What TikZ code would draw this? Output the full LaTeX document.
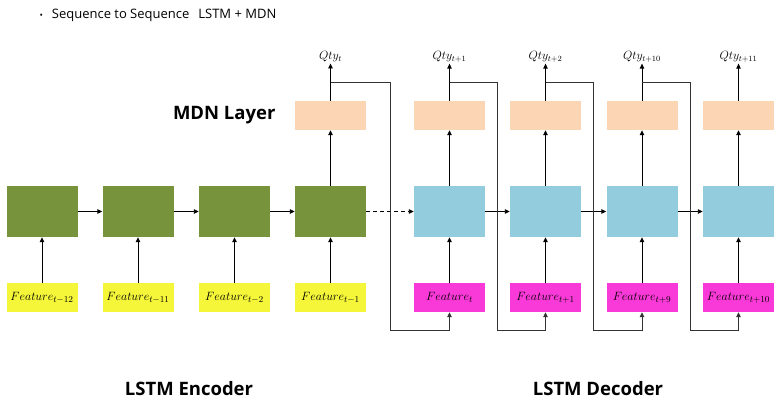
\documentclass[tikz,border=0pt]{standalone}
\usepackage{fontspec}
\setmainfont{Open Sans}
\usetikzlibrary{arrows.meta,calc}

\begin{document}
\begin{tikzpicture}[x=1pt,y=-1pt,
    box/.style={minimum width=71pt,minimum height=29pt,inner sep=0pt},
    cell/.style={box,minimum height=51pt},
    feat/.style={box,font=\fontsize{13}{15}\selectfont},
    qty/.style={inner sep=1pt,font=\fontsize{12}{14}\selectfont},
    head/.style={font=\bfseries\fontsize{18.5}{22}\selectfont},
    arr/.style={-{Triangle[length=5pt,width=4.5pt]},line width=0.9pt},
    fb/.style={arr,black!80}]
    % Define colors
    \definecolor{encgreen}{RGB}{119,147,60}
    \definecolor{decblue}{RGB}{147,205,221}
    \definecolor{mdnpeach}{RGB}{252,213,181}
    \definecolor{featyellow}{RGB}{245,246,58}
    \definecolor{featpink}{RGB}{250,58,216}

    \useasboundingbox (0,0) rectangle (779,416);

    % Title
    \node[anchor=west,font=\fontsize{13}{15}\selectfont] (title) at (36,15)
        {{\small\textbullet}\hspace{9pt}Sequence to Sequence\hspace{9pt}LSTM + MDN};

    % Encoder cells and inputs
    \node[cell,fill=encgreen] (e1) at (42,211.5) {};
    \node[cell,fill=encgreen] (e2) at (138,211.5) {};
    \node[cell,fill=encgreen] (e3) at (234.5,211.5) {};
    \node[cell,fill=encgreen] (e4) at (330.5,211.5) {};
    \node[feat,fill=featyellow] (f1) at (42,297.5) {$Feature_{t-12}$};
    \node[feat,fill=featyellow] (f2) at (138,297.5) {$Feature_{t-11}$};
    \node[feat,fill=featyellow] (f3) at (234.5,297.5) {$Feature_{t-2}$};
    \node[feat,fill=featyellow] (f4) at (330.5,297.5) {$Feature_{t-1}$};

    % Decoder cells and inputs
    \node[cell,fill=decblue] (d1) at (449.5,211.5) {};
    \node[cell,fill=decblue] (d2) at (545.5,211.5) {};
    \node[cell,fill=decblue] (d3) at (642,211.5) {};
    \node[cell,fill=decblue] (d4) at (738.5,211.5) {};
    \node[feat,fill=featpink] (g1) at (449.5,297.5) {$Feature_{t}$};
    \node[feat,fill=featpink] (g2) at (545.5,297.5) {$Feature_{t+1}$};
    \node[feat,fill=featpink] (g3) at (642,297.5) {$Feature_{t+9}$};
    \node[feat,fill=featpink] (g4) at (738.5,297.5) {$Feature_{t+10}$};

    % MDN layer and outputs
    \node[box,fill=mdnpeach] (m0) at (330.5,115.5) {};
    \node[box,fill=mdnpeach] (m1) at (449.5,115.5) {};
    \node[box,fill=mdnpeach] (m2) at (545.5,115.5) {};
    \node[box,fill=mdnpeach] (m3) at (642,115.5) {};
    \node[box,fill=mdnpeach] (m4) at (738.5,115.5) {};
    \node[qty] (q0) at (330.5,57) {$Qty_{t}$};
    \node[qty] (q1) at (449.5,57) {$Qty_{t+1}$};
    \node[qty] (q2) at (545.5,57) {$Qty_{t+2}$};
    \node[qty] (q3) at (642,57) {$Qty_{t+10}$};
    \node[qty] (q4) at (738.5,57) {$Qty_{t+11}$};

    % Labels
    \node[head,anchor=east] (mdnlab) at (279,115) {MDN Layer};
    \node[head] (enclab) at (189,389) {LSTM Encoder};
    \node[head] (declab) at (598,389) {LSTM Decoder};

    % Inputs into cells
    \draw[arr] (f1) -- (e1);
    \draw[arr] (f2) -- (e2);
    \draw[arr] (f3) -- (e3);
    \draw[arr] (f4) -- (e4);
    \draw[arr] (g1) -- (d1);
    \draw[arr] (g2) -- (d2);
    \draw[arr] (g3) -- (d3);
    \draw[arr] (g4) -- (d4);

    % Hidden state
    \draw[arr] (e1) -- (e2);
    \draw[arr] (e2) -- (e3);
    \draw[arr] (e3) -- (e4);
    \draw[arr,dash pattern=on 4pt off 3pt] (e4) -- (d1);
    \draw[arr] (d1) -- (d2);
    \draw[arr] (d2) -- (d3);
    \draw[arr] (d3) -- (d4);

    % Cells to MDN to outputs
    \draw[arr] (e4) -- (m0);
    \draw[arr] (d1) -- (m1);
    \draw[arr] (d2) -- (m2);
    \draw[arr] (d3) -- (m3);
    \draw[arr] (d4) -- (m4);
    \draw[arr] (m0) -- (q0.south);
    \draw[arr] (m1) -- (q1.south);
    \draw[arr] (m2) -- (q2.south);
    \draw[arr] (m3) -- (q3.south);
    \draw[arr] (m4) -- (q4.south);

    % Outputs fed back as next inputs
    \coordinate (k1) at ($(e4.east)!0.5!(d1.west) + (0,118.5)$);
    \coordinate (k2) at ($(d1.east)!0.5!(d2.west) + (0,118.5)$);
    \coordinate (k3) at ($(d2.east)!0.5!(d3.west) + (0,118.5)$);
    \coordinate (k4) at ($(d3.east)!0.5!(d4.west) + (0,118.5)$);
    \draw[fb] ($(m0.north)!0.5!(q0.south)$) -| (k1) -| (g1.south);
    \draw[fb] ($(m1.north)!0.5!(q1.south)$) -| (k2) -| (g2.south);
    \draw[fb] ($(m2.north)!0.5!(q2.south)$) -| (k3) -| (g3.south);
    \draw[fb] ($(m3.north)!0.5!(q3.south)$) -| (k4) -| (g4.south);
\end{tikzpicture}
\end{document}
